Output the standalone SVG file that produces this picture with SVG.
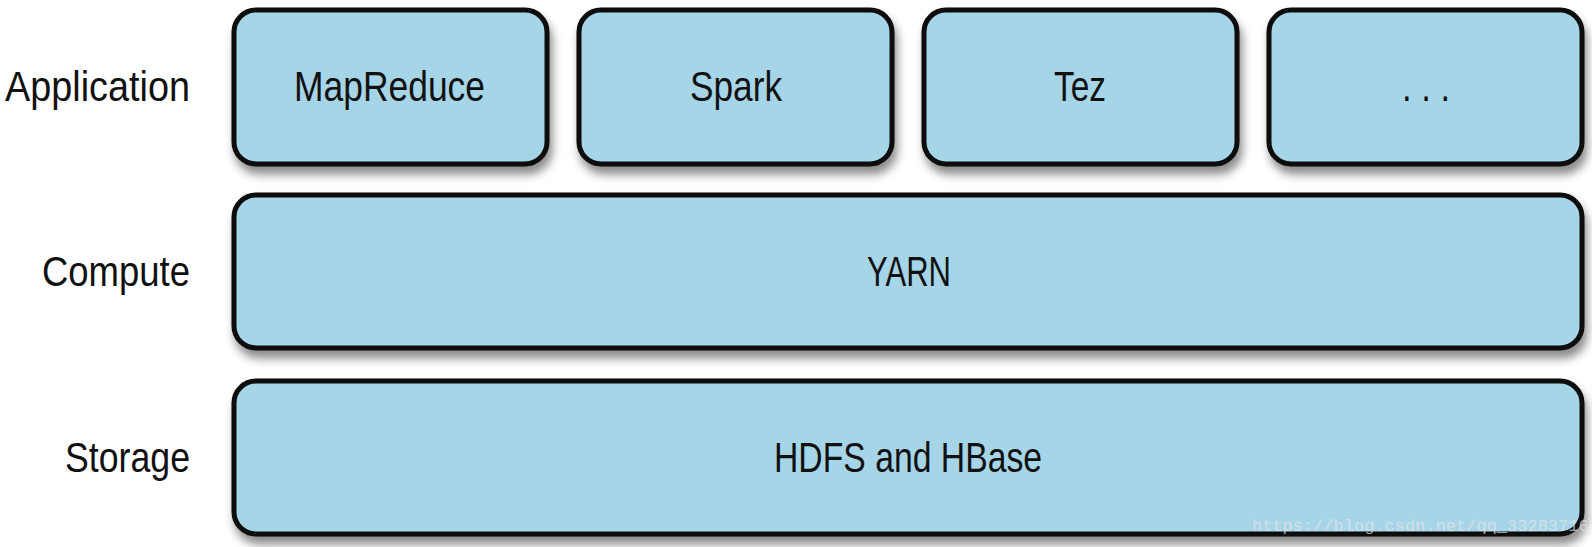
<svg xmlns="http://www.w3.org/2000/svg" width="1592" height="547" viewBox="0 0 1592 547">
  <defs>
    <filter id="shadow" x="-5%" y="-20%" width="110%" height="150%">
      <feDropShadow dx="3" dy="8" stdDeviation="5" flood-color="#000" flood-opacity="0.45"/>
    </filter>
    <style>
      .box { fill: #a7d5e8; stroke: #0a0a0a; stroke-width: 5; filter: url(#shadow); }
      .t { font-family: "Liberation Sans", Arial, sans-serif; font-size: 43px; fill: #111; }
      .c { text-anchor: middle; }
      .l { text-anchor: end; }
      .wm { font-family: "Liberation Mono", monospace; font-size: 17px; fill: #e6e6e6; fill-opacity: 0.7; }
    </style>
  </defs>
  <rect width="1592" height="547" fill="#ffffff"/>
  <g id="label-application"><text class="t" x="5" y="101" textLength="185" lengthAdjust="spacingAndGlyphs">Application</text></g>
  <g id="label-compute"><text class="t" x="42" y="286" textLength="148" lengthAdjust="spacingAndGlyphs">Compute</text></g>
  <g id="label-storage"><text class="t" x="65" y="472" textLength="125" lengthAdjust="spacingAndGlyphs">Storage</text></g>
  <g id="node-mapreduce">
    <rect class="box" x="234" y="10" width="313" height="154" rx="22"/>
    <text class="t" x="294" y="101" textLength="191" lengthAdjust="spacingAndGlyphs">MapReduce</text>
  </g>
  <g id="node-spark">
    <rect class="box" x="579" y="10" width="313" height="154" rx="22"/>
    <text class="t" x="690" y="101" textLength="92" lengthAdjust="spacingAndGlyphs">Spark</text>
  </g>
  <g id="node-tez">
    <rect class="box" x="924" y="10" width="313" height="154" rx="22"/>
    <text class="t" x="1054" y="101" textLength="52" lengthAdjust="spacingAndGlyphs">Tez</text>
  </g>
  <g id="node-more">
    <rect class="box" x="1269" y="10" width="313" height="154" rx="22"/>
    <text class="t" x="1402" y="101" textLength="48" lengthAdjust="spacingAndGlyphs">. . .</text>
  </g>
  <g id="node-yarn">
    <rect class="box" x="234" y="195" width="1348" height="153" rx="22"/>
    <text class="t" x="867" y="286" textLength="84" lengthAdjust="spacingAndGlyphs">YARN</text>
  </g>
  <g id="node-hdfs">
    <rect class="box" x="234" y="381" width="1348" height="153" rx="22"/>
    <text class="t" x="774" y="472" textLength="268" lengthAdjust="spacingAndGlyphs">HDFS and HBase</text>
  </g>
  <g id="connectors"/>
  <text class="wm" x="1252" y="531">https://blog.csdn.net/qq_33283716</text>
</svg>
